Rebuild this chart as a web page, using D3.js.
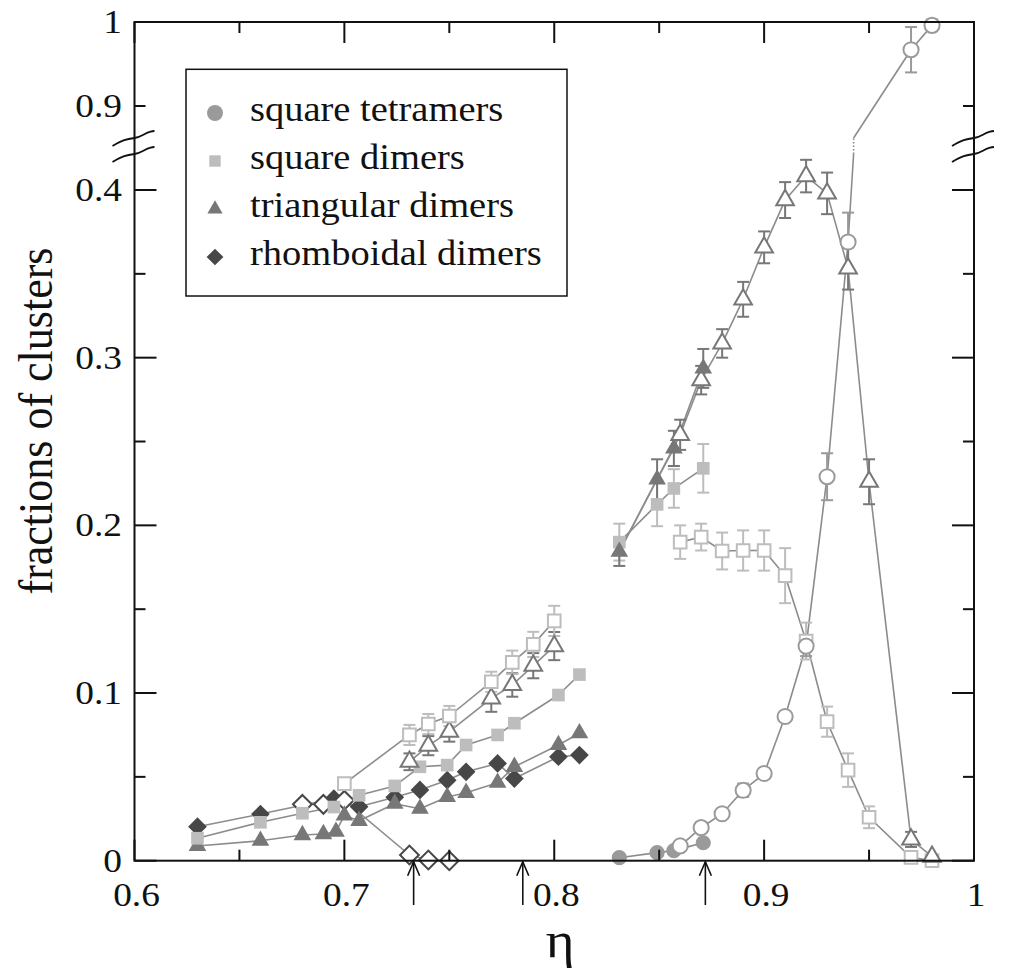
<!DOCTYPE html>
<html lang="en">
<head>
<meta charset="UTF-8">
<title>Fractions of clusters</title>
<script src="https://d3js.org/d3.v7.min.js"></script>
<style>
  body { margin: 0; background: white; }
  svg { display: block; }
</style>
</head>
<body>
<svg width="1022" height="980"></svg>
<script>
// ---- data ----
// square tetramers (circles)
const tetraFilledX = [0.831, 0.849, 0.857, 0.871];
const tetraFilledY = [0.0018, 0.0048, 0.006, 0.0107];
const tetraOpenX = [0.860, 0.870, 0.880, 0.890, 0.900, 0.910, 0.920, 0.930, 0.940, 0.970, 0.980];
const tetraOpenY = [0.0088, 0.0197, 0.028, 0.042, 0.052, 0.086, 0.128, 0.229, 0.369, 0.967, 0.996];
const tetraOpenErr = [0, 0.003, 0, 0.004, 0.003, 0.002, 0.006, 0.014, 0.0175, 0.027, 0.007];

// square dimers
const sqFilledLoX = [0.630, 0.660, 0.680, 0.695, 0.707, 0.724, 0.736, 0.749, 0.758, 0.773, 0.781, 0.802, 0.812];
const sqFilledLoY = [0.0134, 0.0229, 0.0283, 0.032, 0.039, 0.0446, 0.056, 0.057, 0.069, 0.075, 0.082, 0.0988, 0.111];
const sqFilledHiX = [0.831, 0.849, 0.857, 0.871];
const sqFilledHiY = [0.190, 0.2125, 0.222, 0.234];
const sqFilledHiErr = [0.011, 0.013, 0.0115, 0.0145];
const sqOpenLoX = [0.700, 0.731, 0.740, 0.750, 0.770, 0.780, 0.790, 0.800];
const sqOpenLoY = [0.046, 0.075, 0.0815, 0.0863, 0.1067, 0.1183, 0.129, 0.143];
const sqOpenLoErr = [0, 0.006, 0.006, 0.006, 0.006, 0.007, 0.0075, 0.009];
const sqOpenHiX = [0.860, 0.870, 0.880, 0.890, 0.900, 0.910, 0.920, 0.930, 0.940, 0.950, 0.970, 0.980];
const sqOpenHiY = [0.190, 0.193, 0.1847, 0.185, 0.185, 0.170, 0.131, 0.0829, 0.054, 0.0259, 0.002, 0.0];
const sqOpenHiErr = [0.010, 0.008, 0.011, 0.012, 0.012, 0.0164, 0.011, 0.009, 0.010, 0.0065, 0, 0];

// triangular dimers
const triFilledLoX = [0.630, 0.660, 0.680, 0.690, 0.696, 0.700, 0.707, 0.724, 0.736, 0.749, 0.758, 0.773, 0.781, 0.802, 0.812];
const triFilledLoY = [0.0088, 0.0119, 0.0153, 0.0159, 0.0173, 0.027, 0.0238, 0.034, 0.031, 0.038, 0.0405, 0.0465, 0.056, 0.069, 0.076];
const triOpenLoX = [0.731, 0.740, 0.750, 0.770, 0.780, 0.790, 0.800];
const triOpenLoY = [0.059, 0.0686, 0.077, 0.0968, 0.1048, 0.1163, 0.128];
const triOpenLoErr = [0.005, 0.0057, 0.006, 0.008, 0.007, 0.0075, 0.0084];
const triFilledHiX = [0.831, 0.849, 0.857, 0.871];
const triFilledHiY = [0.1843, 0.2274, 0.2459, 0.2936];
const triFilledHiErr = [0.0085, 0.012, 0.0105, 0.0116];
const triOpenHiX = [0.860, 0.870, 0.880, 0.890, 0.900, 0.910, 0.920, 0.930, 0.940, 0.950, 0.970, 0.980];
const triOpenHiY = [0.254, 0.2866, 0.3085, 0.3348, 0.3658, 0.394, 0.4083, 0.398, 0.3532, 0.226, 0.0127, 0.0024];
const triOpenHiErr = [0.009, 0.0085, 0.0085, 0.0104, 0.0095, 0.0107, 0.0097, 0.0124, 0.0126, 0.0134, 0.0045, 0];

// rhomboidal dimers
const rhFilledX = [0.630, 0.660, 0.695, 0.707, 0.724, 0.736, 0.749, 0.758, 0.773, 0.781, 0.802, 0.812];
const rhFilledY = [0.0203, 0.0278, 0.037, 0.0322, 0.0378, 0.0422, 0.048, 0.053, 0.058, 0.049, 0.062, 0.063];
const rhOpenX = [0.680, 0.690, 0.700, 0.731, 0.740, 0.750];
const rhOpenY = [0.0336, 0.0336, 0.036, 0.0034, 0.0004, 0.0];

// arrows under the axis
const arrowX = [0.733, 0.785, 0.872];

// axis ticks
const xTicks = [0.6, 0.7, 0.8, 0.9, 1];
const xMinor = [0.65, 0.75, 0.85, 0.95];
const yTicksLo = [0, 0.1, 0.2, 0.3, 0.4];
const yMinorLo = [0.05, 0.15, 0.25, 0.35];
const yTicksHi = [0.9, 1];

const legendNames = ["square tetramers", "square dimers", "triangular dimers", "rhomboidal dimers"];

// ---- setup ----
const svg = d3.select("svg");
const SX = 1.1; // text in the original is a little wide

const pL = 134.5, pR = 974, pT = 22, pB = 860.7;
const x = d3.scaleLinear().domain([0.6, 1]).range([pL, pR]);
const yLo = d3.scaleLinear().domain([0, 0.4]).range([pB, 190]);
const yHi = d3.scaleLinear().domain([0.9, 1]).range([106, pT]);
const loTopPx = 154, hiBotPx = 138;
const yPix = v => v < 0.6 ? yLo(v) : yHi(v);

const colors = { circle: "#9a9a9a", square: "#bdbdbd", triangle: "#777777", diamond: "#474747" };
const lineColor = "#8c8c8c";

const symbols = {
  circle: d3.symbol().type(d3.symbolCircle).size(180),
  square: d3.symbol().type(d3.symbolSquare).size(160),
  triangle: d3.symbol().type(d3.symbolTriangle).size(135),
  diamond: d3.symbol().type(d3.symbolSquare).size(175)
};

function pts(xs, ys, errs) {
  return xs.map((v, i) => ({ x: v, y: ys[i], e: errs ? errs[i] : 0 }));
}

const series = [
  { d: pts(rhFilledX, rhFilledY), sym: "diamond", open: false },
  { d: pts(rhOpenX, rhOpenY), sym: "diamond", open: true },
  { d: pts(triFilledLoX, triFilledLoY), sym: "triangle", open: false },
  { d: pts(sqFilledLoX, sqFilledLoY), sym: "square", open: false },
  { d: pts(triOpenLoX, triOpenLoY, triOpenLoErr), sym: "triangle", open: true },
  { d: pts(sqOpenLoX, sqOpenLoY, sqOpenLoErr), sym: "square", open: true },
  { d: pts(tetraFilledX, tetraFilledY), sym: "circle", open: false },
  { d: pts(sqOpenHiX, sqOpenHiY, sqOpenHiErr), sym: "square", open: true },
  { d: pts(tetraOpenX, tetraOpenY, tetraOpenErr), sym: "circle", open: true },
  { d: pts(triOpenHiX, triOpenHiY, triOpenHiErr), sym: "triangle", open: true,
    from: { x: triFilledHiX[0], y: triFilledHiY[0] } },
  { d: pts(sqFilledHiX, sqFilledHiY, sqFilledHiErr), sym: "square", open: false },
  { d: pts(triFilledHiX, triFilledHiY, triFilledHiErr), sym: "triangle", open: false }
];

// ---- connecting lines (with the axis break) ----
const lines = svg.append("g").attr("fill", "none").attr("stroke", lineColor).attr("stroke-width", 1.6);
function seg(x0, y0, x1, y1, dash) {
  lines.append("line").attr("x1", x0).attr("y1", y0).attr("x2", x1).attr("y2", y1)
    .attr("stroke-dasharray", dash || null);
}
series.forEach(s => {
  const p = s.from ? [s.from].concat(s.d) : s.d;
  for (let i = 1; i < p.length; i++) {
    const a = p[i - 1], b = p[i];
    const x0 = x(a.x), x1 = x(b.x);
    if ((a.y < 0.6) === (b.y < 0.6)) {
      seg(x0, yPix(a.y), x1, yPix(b.y));
    } else {
      const y0 = yLo(a.y), yt = yLo(b.y);
      const t = (y0 - loTopPx) / (y0 - yt);
      const xb = x0 + t * (x1 - x0);
      seg(x0, y0, xb, loTopPx);
      seg(xb, loTopPx, xb, hiBotPx, "1.5,2");
      seg(xb, hiBotPx, x1, yHi(b.y));
    }
  }
});

// ---- error bars ----
const errG = svg.append("g").attr("stroke-width", 2).attr("fill", "none");
series.forEach(s => {
  s.d.filter(p => p.e > 0).forEach(p => {
    const cx = x(p.x);
    const ya = yPix(p.y - p.e), yb = yPix(p.y + p.e);
    const c = colors[s.sym];
    errG.append("line").attr("x1", cx).attr("x2", cx).attr("y1", ya).attr("y2", yb).attr("stroke", c);
    [ya, yb].forEach(yy => errG.append("line").attr("x1", cx - 6).attr("x2", cx + 6)
      .attr("y1", yy).attr("y2", yy).attr("stroke", c));
  });
});

// ---- markers ----
series.forEach(s => {
  svg.append("g").selectAll("path").data(s.d).join("path")
    .attr("d", symbols[s.sym])
    .attr("transform", p => `translate(${x(p.x)},${yPix(p.y)})` + (s.sym === "diamond" ? " rotate(45)" : ""))
    .attr("fill", s.open ? "white" : colors[s.sym])
    .attr("stroke", s.open ? colors[s.sym] : "none")
    .attr("stroke-width", 2);
});

// ---- frame and ticks ----
svg.append("rect").attr("x", pL).attr("y", pT).attr("width", pR - pL).attr("height", pB - pT)
  .attr("fill", "none").attr("stroke", "#111").attr("stroke-width", 2);

const ticks = svg.append("g").attr("stroke", "#111").attr("stroke-width", 2);
function vtick(px, len) {
  ticks.append("line").attr("x1", px).attr("x2", px).attr("y1", pB).attr("y2", pB - len);
  ticks.append("line").attr("x1", px).attr("x2", px).attr("y1", pT).attr("y2", pT + len);
}
function htick(py, len) {
  ticks.append("line").attr("x1", pL).attr("x2", pL + len).attr("y1", py).attr("y2", py);
  ticks.append("line").attr("x1", pR).attr("x2", pR - len).attr("y1", py).attr("y2", py);
}
xTicks.forEach(v => vtick(x(v), 21));
xMinor.forEach(v => vtick(x(v), 11));
yTicksLo.forEach(v => htick(yLo(v), 22));
yMinorLo.forEach(v => htick(yLo(v), 11));
htick(yHi(0.9), 11);

// axis break marks
const breakG = svg.append("g").attr("fill", "none").attr("stroke", "#111").attr("stroke-width", 1.8);
[pL, pR].forEach(ax => {
  [hiBotPx, loTopPx].forEach(py => {
    breakG.append("path")
      .attr("d", `M${ax - 22},${py + 8} C${ax - 12},${py + 2} ${ax - 8},${py + 1} ${ax},${py} S${ax + 12},${py - 7} ${ax + 20},${py - 7}`);
  });
});

// ---- text ----
function stext(str, px, py, size, anchor, rot) {
  const g = svg.append("g").attr("transform", `translate(${px},${py}) scale(${SX},1)` + (rot ? ` rotate(${rot})` : ""));
  return g.append("text").attr("text-anchor", anchor).attr("font-size", size)
    .style("font-family", "Liberation Serif").attr("fill", "#111").text(str);
}
const fmt = d3.format("~g");
xTicks.forEach(v => stext(fmt(v), x(v) + 2, 906, 34, "middle"));
yTicksLo.forEach(v => stext(fmt(v), 122, yLo(v) + 11, 34, "end"));
yTicksHi.forEach(v => stext(fmt(v), 122, yHi(v) + 11, 34, "end"));

stext("\u03b7", 560, 957, 50, "middle");
stext("fractions of clusters", 52, 421, 44, "middle", -90);

// ---- arrows ----
const arr = svg.append("g").attr("stroke", "#111").attr("stroke-width", 1.6).attr("fill", "none");
arrowX.forEach(v => {
  const ax = x(v);
  arr.append("line").attr("x1", ax).attr("x2", ax).attr("y1", 905).attr("y2", pB + 1);
  arr.append("path").attr("d", `M${ax - 6},${pB + 15} L${ax},${pB + 1} L${ax + 6},${pB + 15}`);
});

// ---- legend ----
svg.append("rect").attr("x", 186).attr("y", 69.3).attr("width", 381).attr("height", 226.7)
  .attr("fill", "white").attr("stroke", "#111").attr("stroke-width", 1.5);
const legendSyms = ["circle", "square", "triangle", "diamond"];
const legendSizes = { circle: 200, square: 130, triangle: 100, diamond: 140 };
legendNames.forEach((name, i) => {
  const cy = 113 + i * 48;
  const sym = legendSyms[i];
  svg.append("path")
    .attr("d", d3.symbol().type(sym === "circle" ? d3.symbolCircle : sym === "triangle" ? d3.symbolTriangle : d3.symbolSquare).size(legendSizes[sym]))
    .attr("transform", `translate(215,${cy})` + (sym === "diamond" ? " rotate(45)" : ""))
    .attr("fill", colors[sym]);
  stext(name, 250, cy + 8, 35, "start");
});
</script>
</body>
</html>
